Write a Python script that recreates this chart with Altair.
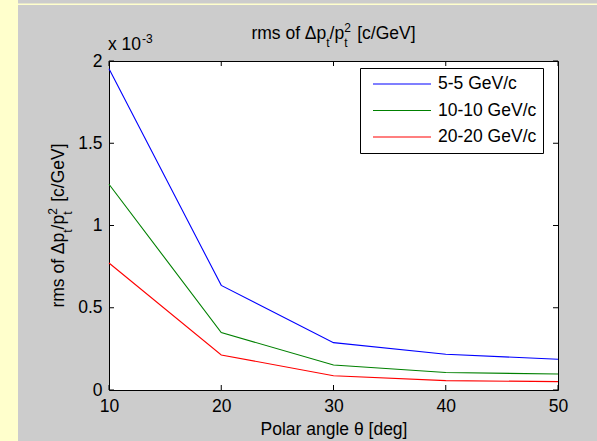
import altair as alt
import pandas as pd

# ---------------- data ----------------
angles = [10, 20, 30, 40, 50]
series_names = ["5-5 GeV/c", "10-10 GeV/c", "20-20 GeV/c"]
series_colors = ["#0000FF", "#008000", "#FF0000"]
rms_5 = [1.953, 0.636, 0.288, 0.217, 0.187]     # x 1e-3 c/GeV
rms_10 = [1.251, 0.349, 0.152, 0.106, 0.097]
rms_20 = [0.772, 0.213, 0.087, 0.057, 0.051]
x_ticks = [10, 20, 30, 40, 50]
y_ticks = [0, 0.5, 1, 1.5, 2]

# ---------------- layout ----------------
W, H = 449, 329
PL, PT = 109, 61
TOTAL_W, TOTAL_H = 597, 441
FONT = "Liberation Sans"
FS = 17.5
FS_SMALL = 12
BG = "#CCCCCC"
YELLOW = "#FFFFCC"
NB = "\u00a0"

# Arial-like advance widths (em) for title text pieces
_W = {"r": .333, "m": .833, "s": .5, " ": .278, NB: .278, "o": .556, "f": .278, "Δ": .668,
      "p": .556, "t": .278, "/": .278, "2": .556, "[": .278, "c": .5, "G": .778,
      "e": .556, "V": .667, "]": .278}


def tw(s, size):
    return sum(_W.get(ch, .556) for ch in s) * size


dummy = pd.DataFrame({"d": [0]})

rows = []
for name, vals in zip(series_names, [rms_5, rms_10, rms_20]):
    for a, v in zip(angles, vals):
        rows.append({"angle": a, "rms": v, "series": name})
df = pd.DataFrame(rows)

xscale = alt.Scale(domain=[10, 50], nice=False, zero=False)
yscale = alt.Scale(domain=[0, 2], nice=False, zero=True)

x_axis = alt.Axis(values=x_ticks, ticks=False, tickSize=0, domain=False, grid=False,
                  labelFont=FONT, labelFontSize=FS, labelColor="black", labelPadding=7,
                  labelBaseline="top", labelFlush=False, labelOverlap=False,
                  title="Polar angle θ [deg]", titleFont=FONT, titleFontSize=FS,
                  titleFontWeight="normal", titleColor="black", titleY=44,
                  titleBaseline="alphabetic")
y_axis = alt.Axis(values=y_ticks, format="~g", ticks=False, tickSize=0, domain=False,
                  grid=False, labelFont=FONT, labelFontSize=FS, labelColor="black",
                  labelPadding=7, labelBaseline="middle", labelFlush=False,
                  labelOverlap=False, title=None)

legend = alt.Legend(orient="none", legendX=251, legendY=7, direction="vertical",
                    symbolType="stroke", symbolSize=3364, symbolStrokeWidth=1.1,
                    clipHeight=20, rowPadding=6.5, padding=6, symbolOffset=6,
                    labelOffset=6, labelFont=FONT, labelFontSize=FS, labelColor="black",
                    fillColor="white", strokeColor="black", title=None)

lines = alt.Chart(df).mark_line(strokeWidth=1.1).encode(
    x=alt.X("angle:Q", scale=xscale, axis=x_axis),
    y=alt.Y("rms:Q", scale=yscale, axis=y_axis),
    color=alt.Color("series:N", scale=alt.Scale(domain=series_names, range=series_colors),
                    legend=legend),
)

# inward ticks (MATLAB style)
xt = pd.DataFrame({"angle": x_ticks})
yt = pd.DataFrame({"rms": y_ticks})
TL = 5
bottom_ticks = alt.Chart(xt).mark_rule(color="black", strokeWidth=1).encode(
    x=alt.X("angle:Q", scale=xscale), y=alt.value(H), y2=alt.value(H - TL))
top_ticks = alt.Chart(xt).mark_rule(color="black", strokeWidth=1).encode(
    x=alt.X("angle:Q", scale=xscale), y=alt.value(0), y2=alt.value(TL))
left_ticks = alt.Chart(yt).mark_rule(color="black", strokeWidth=1).encode(
    y=alt.Y("rms:Q", scale=yscale), x=alt.value(0), x2=alt.value(TL))
right_ticks = alt.Chart(yt).mark_rule(color="black", strokeWidth=1).encode(
    y=alt.Y("rms:Q", scale=yscale), x=alt.value(W - TL), x2=alt.value(W))

# yellow frame strips of the page
left_strip = alt.Chart(dummy).mark_rect(color=YELLOW).encode(
    x=alt.value(-PL), x2=alt.value(-PL + 18), y=alt.value(-PT), y2=alt.value(TOTAL_H - PT))
top_strip = alt.Chart(dummy).mark_rect(color=YELLOW).encode(
    x=alt.value(-PL + 18), x2=alt.value(TOTAL_W - PL), y=alt.value(3.5 - PT), y2=alt.value(5 - PT))


def piece(text, x, y, size, angle=0):
    kw = dict(text=text, font=FONT, fontSize=size, color="black", align="left",
              baseline="alphabetic")
    if angle:
        kw["angle"] = angle
    return alt.Chart(dummy).mark_text(**kw).encode(x=alt.value(x), y=alt.value(y))


# label pieces: "rms of Δp_t/p_t^2 [c/GeV]"
A, B, C = "rms of Δp", "/p", "[c/GeV]"
GAP = tw(" ", FS) + 1.5
wA, wB, wC = tw(A, FS), tw(B, FS), tw(C, FS)
wt, w2 = tw("t", FS_SMALL), tw("2", FS_SMALL)
total = wA + wt + wB + max(wt, w2) + GAP + wC
cx = W / 2
offs = [0, wA, wA + wt, wA + wt + wB, wA + wt + wB + max(wt, w2) + GAP]

x0 = cx - total / 2
MB, SB, UB = -22, -14, -29   # baselines relative to plot top
title_layers = [
    piece(A, x0 + offs[0], MB, FS),
    piece("t", x0 + offs[1], SB, FS_SMALL),
    piece(B, x0 + offs[2], MB, FS),
    piece("t", x0 + offs[3], SB, FS_SMALL),
    piece("2", x0 + offs[3], UB, FS_SMALL),
    piece(C, x0 + offs[4], MB, FS),
]

# rotated y-axis title
cy = H / 2
y0 = cy + total / 2
YM, YS, YU = -45, -37, -52   # baseline x positions relative to plot left
ytitle_layers = [
    piece(A, YM, y0 - offs[0], FS, 270),
    piece("t", YS, y0 - offs[1], FS_SMALL, 270),
    piece(B, YM, y0 - offs[2], FS, 270),
    piece("t", YS, y0 - offs[3], FS_SMALL, 270),
    piece("2", YU, y0 - offs[3], FS_SMALL, 270),
    piece(C, YM, y0 - offs[4], FS, 270),
]

# exponent label "x 10^-3"
exp_layers = [
    piece("x" + NB + "10", -1, -11, FS),
    piece("-3", -1 + tw("x 10", FS), -18, FS_SMALL),
]

chart = alt.layer(
    left_strip, top_strip, lines, bottom_ticks, top_ticks, left_ticks, right_ticks,
    *title_layers, *ytitle_layers, *exp_layers,
).properties(
    width=W, height=H,
    autosize=alt.AutoSizeParams(type="none"),
    padding={"left": PL, "top": PT, "right": TOTAL_W - PL - W, "bottom": TOTAL_H - PT - H},
).configure(background=BG).configure_view(fill="white", stroke="black", strokeWidth=1)

chart.save("out.html", embed_options={"renderer": "svg", "actions": False})
